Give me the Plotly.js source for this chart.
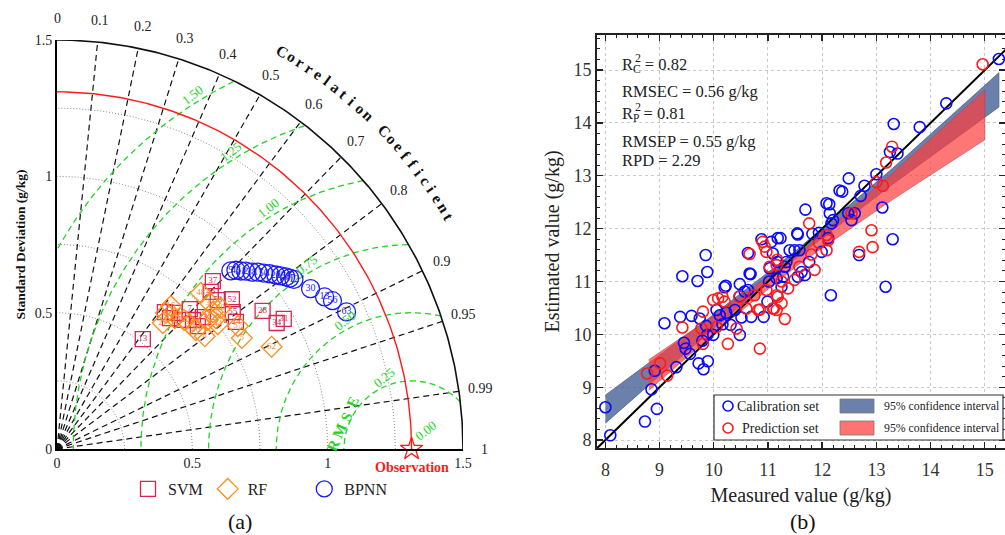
<!DOCTYPE html>
<html><head><meta charset="utf-8">
<script src="https://cdn.plot.ly/plotly-3.0.1.min.js"></script>
<style>html,body{margin:0;padding:0;background:#fff;} #chart{width:1005px;height:535px;}</style>
</head><body><div id="chart"></div>
<script>
// ================= (a) Taylor diagram data =================
const obsStd = 1.31;
const corrTicks = [0.1,0.2,0.3,0.4,0.5,0.6,0.7,0.8,0.9,0.95,0.99];
const corrLabelVals = [0,0.1,0.2,0.3,0.4,0.5,0.6,0.7,0.8,0.9,0.95,0.99,1];
const corrLabelText = ['0','0.1','0.2','0.3','0.4','0.5','0.6','0.7','0.8','0.9','0.95','0.99','1'];
const stdRings = [0.25,0.5,0.75,1.0,1.25];
const rmsRings = [0.25,0.5,0.75,1.0,1.25,1.5];
const rmsRingLabels = ['0.25','0.50','0.75','1.00','1.25','1.50'];

const svmStd = [0.513,0.641,0.636,0.662,0.661,0.710,0.690,0.688,0.724,0.809,0.843,0.807,0.848,0.821,0.809,0.913,0.934,0.964];
const svmR   = [0.618,0.622,0.656,0.657,0.698,0.691,0.728,0.756,0.744,0.702,0.683,0.736,0.762,0.791,0.817,0.832,0.869,0.869];
const svmLab = ['13','4','19','15','18','7','11','43','23','46','37','53','52','55','24','28','34','31'];

const rfStd = [0.605,0.641,0.672,0.648,0.666,0.671,0.673,0.781,0.685,0.731,0.778,0.764,0.758,0.750,0.796,0.806,0.795,0.877];
const rfR   = [0.646,0.628,0.626,0.672,0.704,0.731,0.762,0.680,0.797,0.762,0.726,0.754,0.774,0.792,0.760,0.829,0.859,0.904];
const rfLab = ['27','3','16','10','22','35','40','48','8','1','39','14','29','44','20','57','5','62'];

const bpStd = [0.916,0.931,0.942,0.955,0.969,0.986,1.000,1.015,1.030,1.042,1.055,1.064,1.074,1.106,1.135,1.154,1.182];
const bpR   = [0.701,0.710,0.721,0.730,0.743,0.753,0.764,0.774,0.785,0.793,0.801,0.808,0.815,0.847,0.871,0.882,0.905];
const bpLab = ['9','45','21','2','38','17','50','41','26','33','58','47','12','30','13','56','63'];

// ================= (b) scatter data =================
const calMeasured = [8.00,8.09,8.73,8.95,8.85,8.91,9.31,9.45,9.48,9.56,
  9.38,9.09,9.42,9.70,9.85,9.88,9.59,9.74,9.86,9.88,
  9.79,9.72,9.81,9.89,9.99,10.05,10.11,10.20,10.16,10.23,
  10.31,10.39,10.48,10.48,10.51,10.48,10.57,10.63,10.69,10.66,
  10.63,10.92,10.99,11.02,10.88,11.06,11.09,11.03,11.18,11.17,
  11.16,11.69,11.54,11.23,11.40,11.49,11.58,11.82,11.94,12.11,
  11.99,12.08,12.14,12.17,12.20,12.48,12.60,12.54,13.11,13.30,
  12.68,11.76,11.62,11.68,11.55,11.34,11.31,11.28,11.25,12.16,
  13.17,15.26,14.29,13.80,13.32,13.25,13.39,13.00,12.78,12.71,
  12.49,12.37,10.22,11.55,12.13,10.68,12.32];
const calEstimated = [8.62,8.09,8.35,8.59,8.96,9.31,9.38,9.84,9.73,9.63,
  10.33,10.21,11.10,11.01,11.50,11.18,10.35,10.30,10.16,9.99,
  9.88,9.45,9.34,9.49,9.99,10.46,10.36,10.89,10.19,10.41,
  10.18,10.46,10.95,10.72,10.32,9.99,10.81,10.84,10.33,11.15,
  11.54,10.33,10.62,11.00,11.80,11.75,11.53,11.25,11.82,11.37,
  11.06,12.36,11.91,11.82,11.59,11.59,11.59,11.90,11.92,11.82,
  11.56,12.48,12.29,12.10,12.16,12.29,12.29,12.16,12.40,11.80,
  11.50,11.37,11.18,11.12,11.09,11.37,11.28,11.09,10.90,10.74,
  10.90,15.21,14.37,13.92,13.98,13.45,13.42,13.03,12.81,12.62,
  12.95,12.70,10.92,11.89,12.46,11.14,12.72];
const predMeasured = [8.77,9.01,9.14,9.42,9.80,9.77,9.80,10.05,9.99,10.08,
  10.16,10.20,10.26,10.42,10.47,10.60,10.75,10.66,10.85,10.85,
  10.97,11.09,10.90,10.94,10.97,11.03,11.17,11.16,11.76,12.08,
  11.94,12.08,12.54,12.91,12.68,12.93,11.80,11.86,11.58,11.49,
  11.16,11.37,11.25,11.18,11.25,11.11,11.31,14.96,13.29,13.18,
  13.00,13.12,12.11,11.16,10.82];
const predEstimated = [9.26,9.45,9.22,10.13,10.43,10.11,9.82,10.14,10.65,10.68,
  10.71,10.62,9.82,10.11,10.71,10.49,10.74,11.52,9.73,10.47,
  10.84,10.49,11.75,11.66,11.56,11.28,11.41,10.74,12.10,11.88,
  11.73,11.59,12.29,11.97,11.56,11.65,11.51,11.22,11.28,11.03,
  11.31,10.87,11.00,10.71,10.59,10.49,10.29,15.11,13.55,13.25,
  12.88,12.81,11.78,10.46,10.46];
// 95% confidence bands (x, lower, upper)
const calBandX    = [8.00, 9.80, 11.50, 13.30, 15.26];
const calBandLow  = [8.32, 9.94, 11.43, 12.84, 14.30];
const calBandHigh = [8.85, 10.22, 11.57, 13.14, 14.95];
const predBandX    = [8.80, 10.20, 11.60, 13.30, 15.00];
const predBandLow  = [8.94, 10.19, 11.35, 12.55, 13.68];
const predBandHigh = [9.52, 10.49, 11.55, 13.05, 14.62];
const statLines = ['R<sub>C</sub> = 0.82','RMSEC = 0.56 g/kg','R<sub>P</sub> = 0.81','RMSEP = 0.55 g/kg','RPD = 2.29'];

// ================= layout helpers =================
const SERIF = 'Liberation Serif, Times New Roman, serif';
const W = 1005, H = 535;
const D = Math.PI/180;
const TX = [57/W, 463/W], TY = [86/H, 495/H], TMAX = 1.5;
function tp(x,y){ return [TX[0]+(x/TMAX)*(TX[1]-TX[0]), TY[0]+(y/TMAX)*(TY[1]-TY[0])]; }
function PX(px){ return px/W; } function PY(py){ return (H-py)/H; }
const BX = [597/W, 1], BY = [87/H, 500/H];
const xRangeB = [7.845, 15.373], yRangeB = [7.85, 15.663];
const GREEN = '#22d422';

const traces = [];
const annotations = [];
const shapes = [];
const ta = {xaxis:'x', yaxis:'y', hoverinfo:'skip', showlegend:false};
function ann(o){ annotations.push(Object.assign({xref:'paper',yref:'paper',showarrow:false,xanchor:'center',yanchor:'middle'}, o)); }

// std dotted arcs
stdRings.forEach(r => {
  const xs=[], ys=[];
  for (let a=0;a<=90.001;a+=0.5){ xs.push(r*Math.cos(a*D)); ys.push(r*Math.sin(a*D)); }
  traces.push(Object.assign({type:'scatter',mode:'lines',x:xs,y:ys,line:{color:'#888',width:1,dash:'1px,2px'}},ta));
});
// radial correlation lines
corrTicks.forEach(c => {
  const s = Math.sqrt(1-c*c);
  traces.push(Object.assign({type:'scatter',mode:'lines',x:[0,TMAX*c],y:[0,TMAX*s],line:{color:'#111',width:1.2,dash:'6px,4px'}},ta));
});
// RMSE green arcs centred on observation
rmsRings.forEach(r => {
  const xs=[], ys=[];
  for (let a=0;a<=180.001;a+=0.25){
    const x = obsStd + r*Math.cos(a*D), y = r*Math.sin(a*D);
    if (x>=0 && Math.hypot(x,y)<=TMAX){ xs.push(x); ys.push(y); } else { xs.push(null); ys.push(null); }
  }
  traces.push(Object.assign({type:'scatter',mode:'lines',x:xs,y:ys,connectgaps:false,line:{color:GREEN,width:1.3,dash:'6px,4px'}},ta));
});
// observation arc (red)
(function(){ const xs=[],ys=[]; for(let a=0;a<=90.001;a+=0.5){xs.push(obsStd*Math.cos(a*D));ys.push(obsStd*Math.sin(a*D));}
  traces.push(Object.assign({type:'scatter',mode:'lines',x:xs,y:ys,line:{color:'#ff1a1a',width:1.4}},ta)); })();
// outer arc
(function(){ const xs=[],ys=[]; for(let a=0;a<=90.001;a+=0.5){xs.push(TMAX*Math.cos(a*D));ys.push(TMAX*Math.sin(a*D));}
  traces.push(Object.assign({type:'scatter',mode:'lines',x:xs,y:ys,line:{color:'#111',width:1.6},cliponaxis:false},ta)); })();

function polar(stdArr, rArr){ return {x: stdArr.map((s,i)=>s*rArr[i]), y: stdArr.map((s,i)=>s*Math.sqrt(1-rArr[i]*rArr[i]))}; }
const pSVM = polar(svmStd, svmR), pRF = polar(rfStd, rfR), pBP = polar(bpStd, bpR);
const NB = '&nbsp;';
traces.push({type:'scatter',mode:'markers+text',name:'SVM',x:pSVM.x,y:pSVM.y,text:svmLab,textposition:'middle center',
  textfont:{family:SERIF,size:9,color:'#dc2450'},marker:{symbol:'square-open',size:15,color:'#dc2450',line:{width:1.3}},
  xaxis:'x',yaxis:'y',cliponaxis:false,hoverinfo:'skip'});
traces.push({type:'scatter',mode:'markers+text',name:'RF'+NB.repeat(8),x:pRF.x,y:pRF.y,text:rfLab,textposition:'middle center',
  textfont:{family:SERIF,size:9,color:'#ff8c1a'},marker:{symbol:'diamond-open',size:16,color:'#ff8c1a',line:{width:1.3}},
  xaxis:'x',yaxis:'y',cliponaxis:false,hoverinfo:'skip'});
traces.push({type:'scatter',mode:'markers+text',name:'BPNN',x:pBP.x,y:pBP.y,text:bpLab,textposition:'middle center',
  textfont:{family:SERIF,size:10,color:'#1a1aff'},marker:{symbol:'circle-open',size:18,color:'#1a1aff',line:{width:1.3}},
  xaxis:'x',yaxis:'y',cliponaxis:false,hoverinfo:'skip'});
traces.push({type:'scatter',mode:'markers',name:'Observation',x:[obsStd],y:[0],showlegend:false,
  marker:{symbol:'star-open',size:17,color:'#ff1a1a',line:{width:1.3}},xaxis:'x',yaxis:'y',cliponaxis:false,hoverinfo:'skip'});

// correlation labels
corrLabelVals.forEach((c,i)=>{
  const ang = Math.acos(c), r = 1.58;
  const p = tp(r*Math.cos(ang), r*Math.sin(ang));
  ann({x:p[0],y:p[1],text:corrLabelText[i],font:{family:SERIF,size:14,color:'#222'}});
});
// curved title
(function(){
  const s = 'Correlation Coefficient'.split(''); const a0=60.3, a1=30.4, rT=1.68;
  s.forEach((ch,i)=>{ if(ch===' ') return; const ang=a0-(a0-a1)*i/(s.length-1);
    const p = tp(rT*Math.cos(ang*D), rT*Math.sin(ang*D));
    ann({x:p[0],y:p[1],text:'<b>'+ch+'</b>',textangle:90-ang,font:{family:SERIF,size:15.5,color:'#111'}});
  });
})();
// RMSE ring labels
rmsRings.forEach((r,i)=>{
  const rr = r+0.03, a = (124 - 3.2/r)*D;
  const p = tp(obsStd+rr*Math.cos(a), rr*Math.sin(a));
  ann({x:p[0],y:p[1],text:rmsRingLabels[i],textangle:-38,font:{family:SERIF,size:13,color:GREEN}});
});
(function(){ const p = tp(obsStd,0);
  ann({x:p[0],y:p[1],xshift:14,yshift:19,text:'0.00',textangle:-38,font:{family:SERIF,size:13,color:GREEN}});
  ann({x:p[0],y:p[1],yshift:-18,text:'<b>Observation</b>',font:{family:SERIF,size:14,color:'#ff1a1a'}});
  // "R M S E" written along a slanted line
  const letters = ['R','M','S','E'], s0=[1.020,0.012], s1=[1.093,0.172];
  letters.forEach((L,i)=>{ const f=i/(letters.length-1);
    const q = tp(s0[0]+(s1[0]-s0[0])*f, s0[1]+(s1[1]-s0[1])*f);
    ann({x:q[0],y:q[1],text:'<b>'+L+'</b>',textangle:-66,font:{family:SERIF,size:15,color:GREEN}});
  });
})();
ann({x:PX(240),y:PY(521),text:'(a)',font:{family:SERIF,size:22,color:'#111'}});
ann({x:PX(803),y:PY(521),text:'(b)',font:{family:SERIF,size:22,color:'#111'}});

// ================= (b) traces =================
const tb = {xaxis:'x2', yaxis:'y2', hoverinfo:'skip', showlegend:false};
traces.push(Object.assign({type:'scatter',mode:'lines',name:'95% confidence interval (calibration)',
  x: calBandX.concat(calBandX.slice().reverse()), y: calBandLow.concat(calBandHigh.slice().reverse()),
  fill:'toself', fillcolor:'rgba(70,97,150,0.8)', line:{color:'#4d5f85',width:0.8}}, tb));
traces.push(Object.assign({type:'scatter',mode:'lines',name:'95% confidence interval (prediction)',
  x: predBandX.concat(predBandX.slice().reverse()), y: predBandLow.concat(predBandHigh.slice().reverse()),
  fill:'toself', fillcolor:'rgba(255,60,60,0.7)', line:{color:'#c04050',width:0.6}}, tb));
traces.push(Object.assign({type:'scatter',mode:'lines',name:'1:1 line',x:[xRangeB[0], yRangeB[1]],y:[xRangeB[0], yRangeB[1]],
  line:{color:'#000',width:2}}, tb));
traces.push(Object.assign({type:'scatter',mode:'markers',name:'Calibration set',x:calMeasured,y:calEstimated,
  marker:{symbol:'circle-open',size:11,color:'#0a0aff',line:{width:1.6}}}, tb));
traces.push(Object.assign({type:'scatter',mode:'markers',name:'Prediction set',x:predMeasured,y:predEstimated,
  marker:{symbol:'circle-open',size:11,color:'#ff1a1a',line:{width:1.6}}}, tb));

// statistics text
const statY = [65, 91, 114, 141, 160];
statLines.forEach((t,i)=>{
  ann({x:PX(620),y:PY(statY[i]),xanchor:'left',text:t,font:{family:SERIF,size:16.5,color:'#222'}});
});
ann({x:PX(633),y:PY(58),xanchor:'left',text:'2',font:{family:SERIF,size:12,color:'#222'}});
ann({x:PX(633),y:PY(107),xanchor:'left',text:'2',font:{family:SERIF,size:12,color:'#222'}});

// manual legend for (b)
shapes.push({type:'rect',xref:'paper',yref:'paper',x0:PX(714),x1:PX(1003),y0:PY(440),y1:PY(395),line:{color:'#333',width:1.2},fillcolor:'#fff',layer:'above'});
[[406,'#0a0aff'],[428,'#ff1a1a']].forEach(v=>{
  shapes.push({type:'circle',xref:'paper',yref:'paper',xsizemode:'pixel',ysizemode:'pixel',xanchor:PX(728),yanchor:PY(v[0]),
    x0:-5,x1:5,y0:-5,y1:5,line:{color:v[1],width:1.6},layer:'above'});
});
shapes.push({type:'rect',xref:'paper',yref:'paper',x0:PX(840),x1:PX(874),y0:PY(413),y1:PY(399),line:{color:'#777',width:0.8},fillcolor:'#6b81ab',layer:'above'});
shapes.push({type:'rect',xref:'paper',yref:'paper',x0:PX(840),x1:PX(874),y0:PY(435),y1:PY(421),line:{color:'#777',width:0.8},fillcolor:'#ff7373',layer:'above'});
[['Calibration set',406],['Prediction set',428]].forEach(v=>{
  ann({x:PX(821),y:PY(v[1]),xanchor:'right',text:v[0],font:{family:SERIF,size:14,color:'#222'}});
  ann({x:PX(882),y:PY(v[1]),xanchor:'left',text:'95% confidence interval',font:{family:SERIF,size:11.8,color:'#222'}});
});

const layout = {
  width:W, height:H, margin:{l:0,r:0,t:0,b:0}, paper_bgcolor:'#fff', plot_bgcolor:'rgba(0,0,0,0)',
  font:{family:SERIF,color:'#222'},
  showlegend:true,
  legend:{orientation:'h',x:PX(128),xanchor:'left',y:PY(489),yanchor:'middle',font:{family:SERIF,size:16,color:'#222'},bgcolor:'rgba(0,0,0,0)',itemwidth:30},
  xaxis:{domain:TX,range:[0,TMAX],anchor:'y',showgrid:false,zeroline:false,showline:true,linecolor:'#000',linewidth:2,
    tickvals:[0,0.5,1,1.5],ticktext:['0','0.5','1','1.5'],ticks:'',tickfont:{family:SERIF,size:14,color:'#222'}},
  yaxis:{domain:TY,range:[0,TMAX],anchor:'x',showgrid:false,zeroline:false,showline:true,linecolor:'#000',linewidth:2,
    tickvals:[0,0.5,1,1.5],ticktext:['0','0.5','1','1.5'],ticks:'',tickfont:{family:SERIF,size:14,color:'#222'},
    title:{text:'<b>Standard Deviation (g/kg)</b>',font:{family:SERIF,size:13.5,color:'#111'},standoff:6}},
  xaxis2:{domain:BX,range:xRangeB,anchor:'y2',tick0:8,dtick:1,showgrid:true,gridcolor:'#c9c9c9',griddash:'dot',gridwidth:1,
    zeroline:false,showline:true,linecolor:'#222',linewidth:2,mirror:'ticks',ticks:'inside',ticklen:6,tickwidth:1.4,tickcolor:'#222',
    minor:{ticks:'inside',dtick:0.2,ticklen:3,tickwidth:1,tickcolor:'#222',showgrid:false},ticklabelstandoff:4,
    tickfont:{family:SERIF,size:18,color:'#333'},title:{text:'Measured value (g/kg)',font:{family:SERIF,size:20,color:'#222'},standoff:9}},
  yaxis2:{domain:BY,range:yRangeB,anchor:'x2',tick0:8,dtick:1,showgrid:true,gridcolor:'#c9c9c9',griddash:'dot',gridwidth:1,
    zeroline:false,showline:true,linecolor:'#222',linewidth:2,mirror:'ticks',ticks:'inside',ticklen:6,tickwidth:1.4,tickcolor:'#222',
    minor:{ticks:'inside',dtick:0.2,ticklen:3,tickwidth:1,tickcolor:'#222',showgrid:false},
    tickfont:{family:SERIF,size:18,color:'#333'},title:{text:'Estimated value (g/kg)',font:{family:SERIF,size:20,color:'#222'},standoff:8}},
  annotations: annotations,
  shapes: shapes
};
Plotly.newPlot('chart', traces, layout, {displayModeBar:false, staticPlot:true});
</script>
</body></html>
